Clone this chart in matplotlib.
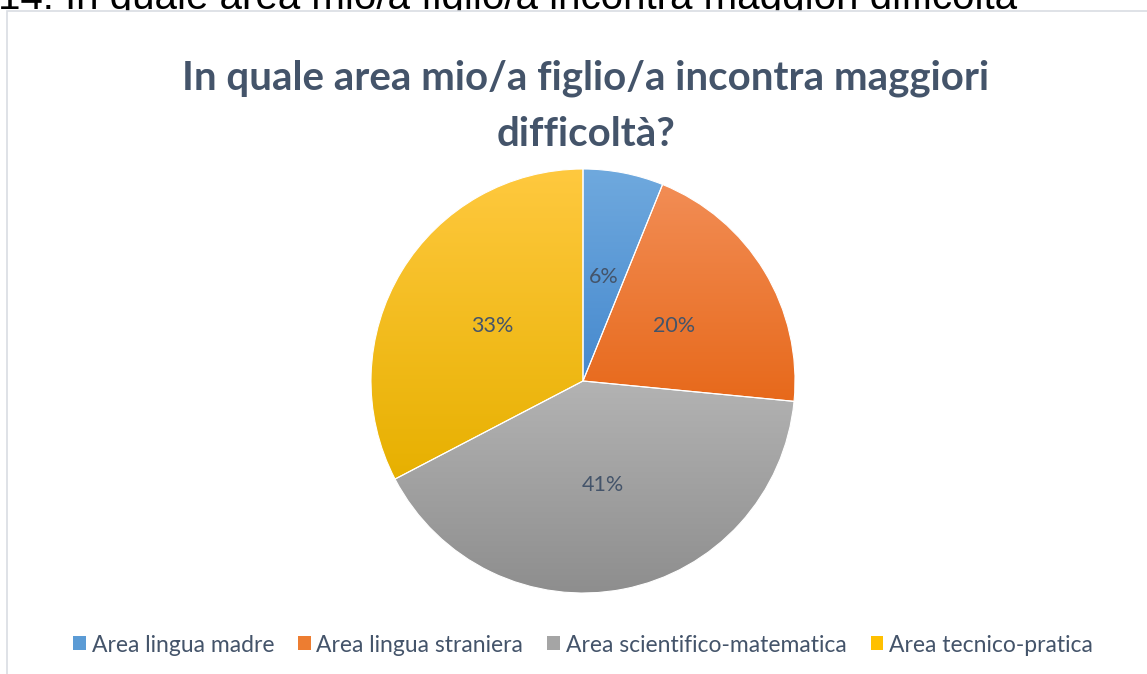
import numpy as np
import matplotlib
matplotlib.use("Agg")
import matplotlib.pyplot as plt
from matplotlib.colors import LinearSegmentedColormap
from matplotlib.patches import Rectangle

# answers (counts): 3/49, 10/49, 20/49, 16/49
categories = ["Area lingua madre", "Area lingua straniera",
              "Area scientifico-matematica", "Area tecnico-pratica"]
counts = [3, 10, 20, 16]

title_lines = ["In quale area mio/a figlio/a incontra maggiori", "difficoltà?"]
page_heading = "14. In quale area mio/a figlio/a incontra maggiori difficoltà"

# gradient colours: (top, bottom) of every slice
grad_colors = [("#6FA9DE", "#4689CE"),
               ("#F28D55", "#E7691B"),
               ("#B3B3B3", "#8D8D8D"),
               ("#FFC93F", "#E7B000")]
legend_colors = ["#5B9BD5", "#ED7D31", "#A5A5A5", "#FFC000"]
text_color = "#44546A"

W, H = 1147, 674
fig = plt.figure(figsize=(W / 100, H / 100), dpi=100)

# page heading, mostly hidden behind the chart box
fig.text(-0.002, 1 - 9 / H, page_heading, fontsize=29, family="Liberation Sans",
         color="black", ha="left", va="baseline", zorder=0)

# chart area box
fig.patches.append(Rectangle((7 / W, -0.05), 1.1, 1 - 11 / H + 0.05,
                             transform=fig.transFigure, facecolor="white",
                             edgecolor="#D9DDE3", linewidth=1.2, zorder=1))

for line, y in zip(title_lines, [78, 135]):
    fig.text(586 / W, 1 - y / H, line, fontsize=29, family="Lato", weight="bold",
             color=text_color, ha="center", va="center", zorder=3)

cx, cy, r = 583, 381, 212
ax = fig.add_axes([(cx - r) / W, (H - cy - r) / H, 2 * r / W, 2 * r / H])
ax.set_zorder(2)
ax.set_aspect("equal")
ax.axis("off")

wedges, texts, autotexts = ax.pie(
    counts, startangle=90, counterclock=False, radius=1.0,
    autopct="%.0f%%", pctdistance=0.5,
    wedgeprops=dict(linewidth=0.8, edgecolor="white"),
    textprops=dict(fontsize=15.5, family="Lato", color=text_color))

for w, (c_top, c_bot) in zip(wedges, grad_colors):
    w.set_facecolor("none")
    verts = w.get_path().vertices
    x0, x1 = verts[:, 0].min(), verts[:, 0].max()
    y0, y1 = verts[:, 1].min(), verts[:, 1].max()
    cmap = LinearSegmentedColormap.from_list("g", [c_bot, c_top])
    grad = np.linspace(0, 1, 256).reshape(-1, 1)
    im = ax.imshow(grad, cmap=cmap, extent=[x0, x1, y0, y1], origin="lower",
                   aspect="auto", zorder=0.5, interpolation="bilinear")
    im.set_clip_path(w)

ax.set_xlim(-1.0, 1.0)
ax.set_ylim(-1.0, 1.0)
for t in autotexts:
    t.set_zorder(3)

handles = [Rectangle((0, 0), 1, 1, facecolor=c) for c in legend_colors]
leg = fig.legend(handles, categories, loc="center", bbox_to_anchor=(583 / W, 1 - 645 / H),
                 ncol=4, frameon=False, handlelength=0.55, handleheight=0.55,
                 handletextpad=0.25, columnspacing=1.05,
                 prop=dict(family="Lato", size=16.5))
for t in leg.get_texts():
    t.set_color(text_color)
leg.set_zorder(3)

fig.savefig("out.png", dpi=100)
